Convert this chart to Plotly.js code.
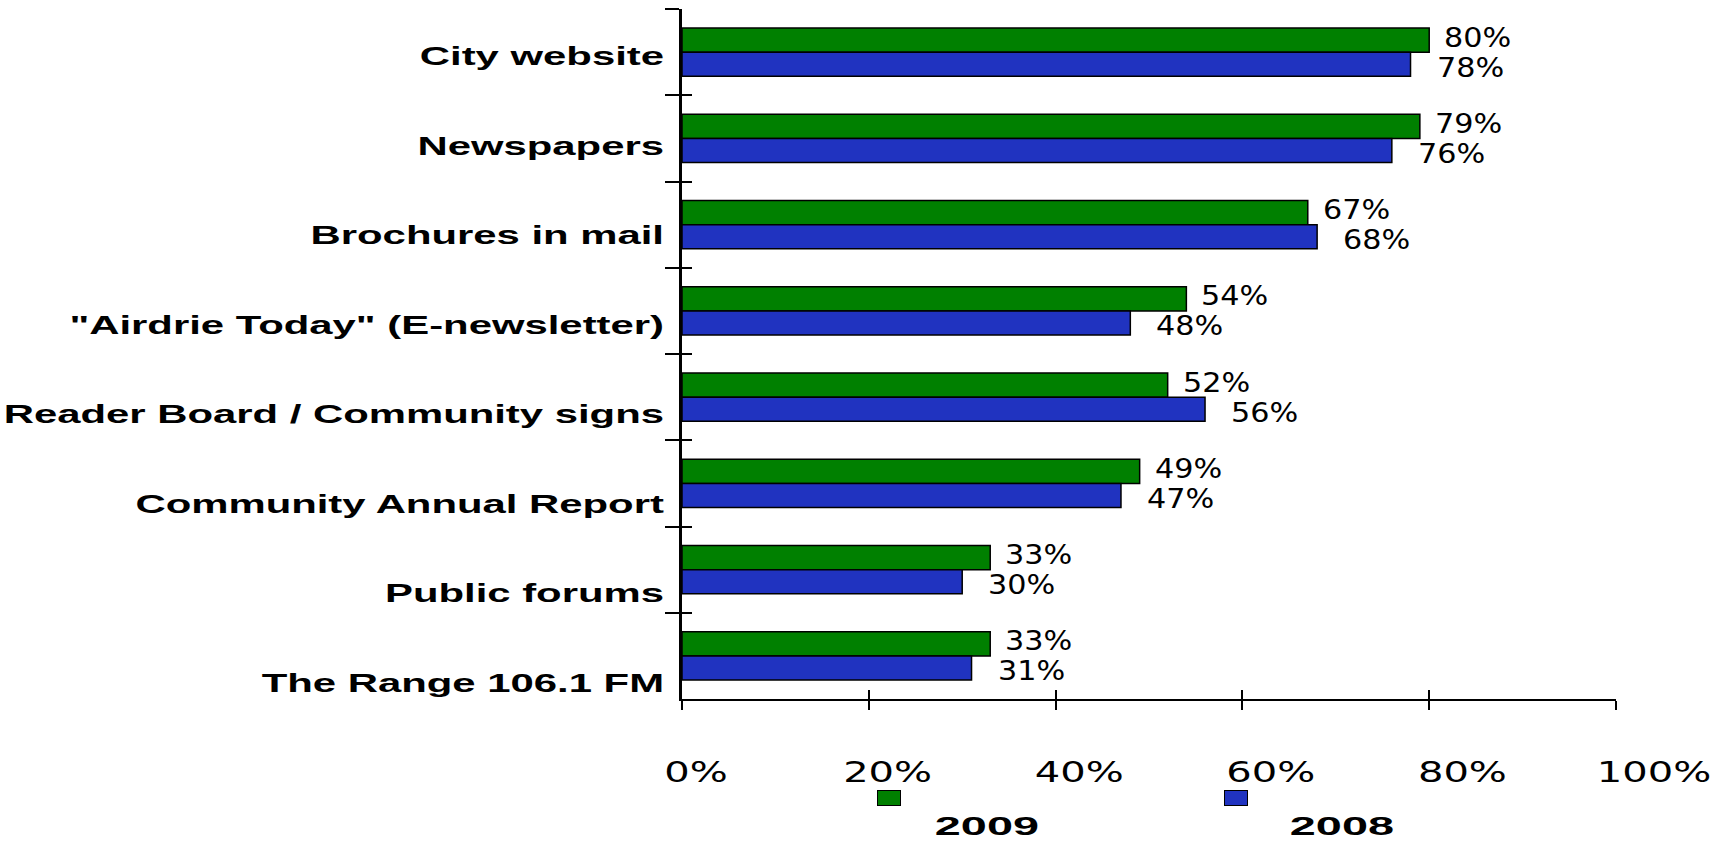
<!DOCTYPE html>
<html>
<head>
<meta charset="utf-8">
<script src="https://cdn.plot.ly/plotly-3.0.1.min.js"></script>
<style>
html, body { margin: 0; padding: 0; background: #ffffff; }
#chart { width: 1726px; height: 842px; }
</style>
</head>
<body>
<div id="chart"></div>
<script>
// ---------------- data ----------------
const categories = [
  'City website',
  'Newspapers',
  'Brochures in mail',
  '"Airdrie Today" (E-newsletter)',
  'Reader Board / Community signs',
  'Community Annual Report',
  'Public forums',
  'The Range 106.1 FM'
];
const seriesNames = ['2009', '2008'];
const values2009 = [80, 79, 67, 54, 52, 49, 33, 33];
const values2008 = [78, 76, 68, 48, 56, 47, 30, 31];
const xTickValues = [0, 20, 40, 60, 80, 100];
const xTickLabels = ['0%', '20%', '40%', '60%', '80%', '100%'];

// ---------------- style / layout constants ----------------
const W = 1726, H = 842;
const M = { l: 682, r: 18, t: 9, b: 102 };
const PW = W - M.l - M.r, PH = H - M.t - M.b;
const colors = ['#008000', '#2033c0'];
const catFont = { family: 'Liberation Sans, Arial, sans-serif', size: 26.5, color: '#000', weight: 'bold' };
const tickFont = { family: 'DejaVu Sans, Verdana, sans-serif', size: 29, color: '#000' };
const valFont = { family: 'DejaVu Sans, Verdana, sans-serif', size: 27, color: '#000' };
const legFont = { family: 'Liberation Sans, Arial, sans-serif', size: 26, color: '#000', weight: 'bold' };

function pxX(px) { return (px - M.l) / PW; }
function pxY(py) { return (H - M.b - py) / PH; }

const plotBottomPx = 699;          // x axis line
const xEndPx = 1616;               // 100% position
const labelSpanPx = [696, 1654];   // centres of 0% and 100% labels
const catLabelSpanPx = [56, 682.5];// centres of first and last category labels
const swatchPx = [[889, 798], [1236, 798]];
const legendTextPx = [[987, 826], [1342, 826]];

const seriesValues = [values2009, values2008];

const traces = seriesValues.map((vals, i) => ({
  type: 'bar',
  orientation: 'h',
  name: seriesNames[i],
  x: vals,
  y: categories,
  marker: { color: colors[i], line: { color: '#000000', width: 1.5 } },
  showlegend: false,
  hoverinfo: 'skip'
}));
// helper traces so the overlay / label axes exist
traces.push({ type: 'scatter', mode: 'markers', x: categories.map(() => 0), y: categories,
  xaxis: 'x2', yaxis: 'y2', marker: { opacity: 0, size: 1 }, showlegend: false, hoverinfo: 'skip' });
traces.push({ type: 'scatter', mode: 'markers', x: [0], y: [0],
  xaxis: 'x3', yaxis: 'y3', marker: { opacity: 0, size: 1 }, showlegend: false, hoverinfo: 'skip' });
traces.push({ type: 'scatter', mode: 'markers', x: categories.map(() => 0), y: categories,
  xaxis: 'x3', yaxis: 'y4', marker: { opacity: 0, size: 1 }, showlegend: false, hoverinfo: 'skip' });

const annotations = [];
seriesValues.forEach((vals, i) => {
  vals.forEach((v, j) => {
    annotations.push({
      xref: 'x', yref: 'y', x: v, y: categories[j],
      text: v + '%', showarrow: false, align: 'left',
      xanchor: 'left', yanchor: 'middle',
      xshift: i === 0 ? 14 : 25, yshift: i === 0 ? 15 : -15,
      font: valFont, borderpad: 0
    });
  });
});
const nData = annotations.length;
seriesNames.forEach((n, i) => {
  annotations.push({
    xref: 'paper', yref: 'paper', x: pxX(swatchPx[i][0]), y: pxY(swatchPx[i][1]),
    xanchor: 'center', yanchor: 'middle', text: '\u00a0', showarrow: false,
    width: 22, height: 14, bgcolor: colors[i], bordercolor: '#000000', borderwidth: 1, borderpad: 0,
    font: { size: 8 }
  });
});
const nSw = annotations.length;
seriesNames.forEach((n, i) => {
  annotations.push({
    xref: 'paper', yref: 'paper', x: pxX(legendTextPx[i][0]), y: pxY(legendTextPx[i][1]),
    xanchor: 'center', yanchor: 'middle', text: n, showarrow: false, font: legFont
  });
});

const xDomEnd = pxX(xEndPx);
const yDom = [pxY(plotBottomPx), 1];
const catStep = (catLabelSpanPx[1] - catLabelSpanPx[0]) / (categories.length - 1);
const y4Dom = [pxY(catLabelSpanPx[1] + catStep / 2), pxY(catLabelSpanPx[0] - catStep / 2)];
const catRange = [categories.length - 0.5, -0.5];

const layout = {
  width: W, height: H,
  margin: M,
  paper_bgcolor: '#ffffff',
  plot_bgcolor: 'rgba(0,0,0,0)',
  barmode: 'group', bargap: 0.443, bargroupgap: 0,
  showlegend: false,
  xaxis: {
    domain: [0, xDomEnd], range: [0, 100], anchor: 'y',
    tickmode: 'array', tickvals: xTickValues, showticklabels: false,
    ticks: 'outside', ticklen: 9, tickwidth: 2, tickcolor: '#000',
    showline: true, linewidth: 2, linecolor: '#000',
    showgrid: false, zeroline: false, fixedrange: true
  },
  xaxis2: {
    overlaying: 'x', anchor: 'y2', range: [0, 100],
    tickmode: 'array', tickvals: xTickValues, showticklabels: false,
    ticks: 'inside', ticklen: 9, tickwidth: 2, tickcolor: '#000',
    showline: false, showgrid: false, zeroline: false, fixedrange: true
  },
  yaxis: {
    type: 'category', categoryorder: 'array', categoryarray: categories,
    domain: yDom, range: catRange, anchor: 'x',
    tickson: 'boundaries', ticks: 'outside', ticklen: 14, tickwidth: 1.5, tickcolor: '#000',
    showticklabels: false,
    showline: true, linewidth: 3, linecolor: '#000',
    showgrid: false, zeroline: false, fixedrange: true
  },
  yaxis2: {
    type: 'category', categoryorder: 'array', categoryarray: categories,
    overlaying: 'y', anchor: 'x2', range: catRange,
    tickson: 'boundaries', ticks: 'inside', ticklen: 10, tickwidth: 1.5, tickcolor: '#000',
    showticklabels: false, showline: false, showgrid: false, zeroline: false, fixedrange: true
  },
  xaxis3: {
    domain: [pxX(labelSpanPx[0]), pxX(labelSpanPx[1])], range: [0, 100], anchor: 'y3',
    tickmode: 'array', tickvals: xTickValues, ticktext: xTickLabels,
    ticks: '', showline: false, showgrid: false, zeroline: false,
    tickfont: tickFont, ticklabelstandoff: 53, fixedrange: true, automargin: false
  },
  yaxis3: { domain: yDom, anchor: 'x3', range: [0, 1], visible: false, fixedrange: true },
  yaxis4: {
    type: 'category', categoryorder: 'array', categoryarray: categories,
    domain: y4Dom, range: catRange, anchor: 'free', position: 0,
    ticks: '', showline: false, showgrid: false, zeroline: false,
    tickfont: catFont, ticklabelstandoff: 18, fixedrange: true, automargin: false
  },
  annotations: annotations
};

function stretch(el, s) {
  const b = el.getBBox();
  const anchor = el.getAttribute('text-anchor') || 'start';
  let ax = b.x;
  if (anchor === 'end') ax = b.x + b.width;
  else if (anchor === 'middle') ax = b.x + b.width / 2;
  const tr = el.getAttribute('transform') || '';
  el.setAttribute('transform', (tr + ' translate(' + ax + ',0) scale(' + s + ',1) translate(' + (-ax) + ',0)').trim());
}

Plotly.newPlot('chart', traces, layout, { displayModeBar: false, responsive: false }).then(gd => {
  gd.querySelectorAll('g.y4tick text').forEach(t => stretch(t, 1.58));
  gd.querySelectorAll('g.x3tick text').forEach(t => stretch(t, 1.38));
  gd.querySelectorAll('g.annotation').forEach(g => {
    const idx = +g.getAttribute('data-index');
    const t = g.querySelector('text.annotation-text');
    if (!t) return;
    if (idx < nData) stretch(t, 1.12);
    else if (idx >= nSw) stretch(t, 1.8);
  });
});
</script>
</body>
</html>
